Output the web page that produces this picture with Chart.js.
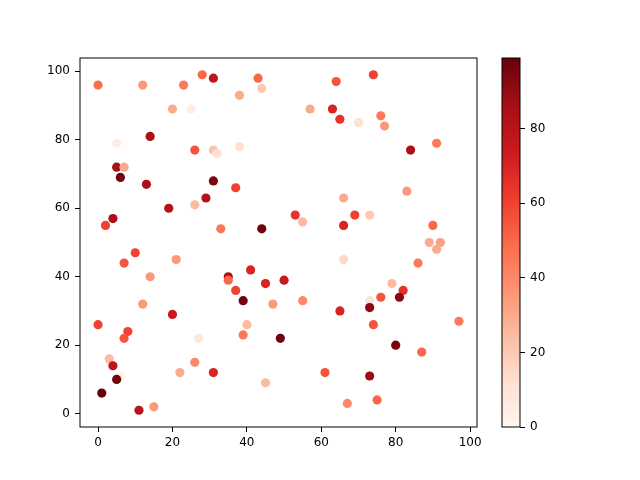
<!DOCTYPE html>
<html>
<head>
<meta charset="utf-8">
<script src="https://cdn.jsdelivr.net/npm/chart.js@4.4.1/dist/chart.umd.min.js"></script>
<style>
    body { margin: 0; background: #fff; }
    #wrap { position: relative; width: 640px; height: 480px; }
    #myChart { position: absolute; left: 0; top: 0; }
    #colorBar { position: absolute; left: 480px; top: 0; }
</style>
</head>
<body>
<div id="wrap">
    <canvas id="myChart" width="640" height="480"></canvas>
    <canvas id="colorBar" width="160" height="480"></canvas>
</div>
<script>
const xValues = [0, 12, 23, 28, 31, 20, 25, 5, 14, 26, 31, 32, 5, 7, 6, 13, 31, 29, 19, 26, 4, 2, 33,
    43, 64, 38, 44, 57, 63, 65, 38, 37, 66, 53, 55, 66, 44,
    74, 70, 76, 77, 84, 91, 83, 69, 73, 90, 89, 92, 91, 66, 86, 79, 82, 76, 73, 81, 73, 65, 74, 97, 80, 87, 73, 67, 75,
    35, 35, 41, 45, 50, 37, 39, 47, 55, 40, 39, 49, 31, 61, 45,
    10, 7, 21, 14, 12, 20, 0, 8, 7, 27, 3, 4, 26, 22, 6, 5, 1, 11, 15];
const yValues = [96, 96, 96, 99, 98, 89, 89, 79, 81, 77, 77, 76, 72, 72, 69, 67, 68, 63, 60, 61, 57, 55, 54,
    98, 97, 93, 95, 89, 89, 86, 78, 66, 63, 58, 56, 55, 54,
    99, 85, 87, 84, 77, 79, 65, 58, 58, 55, 50, 50, 48, 45, 44, 38, 36, 34, 33, 34, 31, 30, 26, 27, 20, 18, 11, 3, 4,
    40, 39, 42, 38, 39, 36, 33, 32, 33, 26, 23, 22, 12, 12, 9,
    47, 44, 45, 40, 32, 29, 26, 24, 22, 22, 16, 14, 15, 12, 11, 10, 6, 1, 2];
const colorValues = [48, 35, 45, 50, 78, 30, 5, 5, 85, 55, 22, 12, 85, 30, 97, 85, 95, 82, 82, 25, 85, 60, 45,
    50, 55, 30, 20, 30, 70, 65, 12, 60, 30, 65, 25, 70, 97,
    60, 12, 45, 35, 85, 45, 35, 60, 20, 50, 30, 33, 30, 15, 45, 25, 65, 55, 10, 92, 92, 70, 55, 45, 96, 50, 88, 40, 50,
    85, 50, 70, 70, 75, 60, 97, 35, 40, 25, 45, 97, 70, 55, 25,
    60, 55, 35, 35, 35, 75, 60, 60, 55, 8, 25, 78, 40, 30, 5, 97, 99, 80, 35];
const xTicks = [0, 20, 40, 60, 80, 100];
const yTicks = [0, 20, 40, 60, 80, 100];
const colorTicks = [0, 20, 40, 60, 80];
// matplotlib "Reds"
const reds = ["#fff5f0", "#fee0d2", "#fcbba1", "#fc9272", "#fb6a4a", "#ef3b2c", "#cb181d", "#a50f15", "#67000d"];
const cMin = 0;
const cMax = 99;

function hexToRgb(h) {
    return [parseInt(h.slice(1, 3), 16), parseInt(h.slice(3, 5), 16), parseInt(h.slice(5, 7), 16)];
}
function redsColor(v) {
    let t = (v - cMin) / (cMax - cMin);
    t = Math.min(1, Math.max(0, t)) * (reds.length - 1);
    const i = Math.min(reds.length - 2, Math.floor(t));
    const f = t - i;
    const a = hexToRgb(reds[i]);
    const b = hexToRgb(reds[i + 1]);
    const c = a.map((n, k) => Math.round(n + (b[k] - n) * f));
    return `rgb(${c[0]}, ${c[1]}, ${c[2]})`;
}
// 5% margins like matplotlib autoscale
function padRange(arr) {
    const lo = Math.min(...arr);
    const hi = Math.max(...arr);
    const m = (hi - lo) * 0.05;
    return [lo - m, hi + m];
}

const tickFont = { family: "DejaVu Sans", size: 12 };
const axisGrid = { drawOnChartArea: false, drawTicks: true, tickLength: 5, color: "#000", lineWidth: 1 };

const framePlugin = {
    id: "frame",
    afterDraw(chart) {
        const { ctx, chartArea: a } = chart;
        ctx.save();
        ctx.strokeStyle = "#000";
        ctx.lineWidth = 1;
        ctx.strokeRect(a.left, a.top, a.right - a.left, a.bottom - a.top);
        ctx.restore();
    }
};

Chart.defaults.color = "#000";
const [xMin, xMax] = padRange(xValues);
const [yMin, yMax] = padRange(yValues);

const chart = new Chart("myChart", {
    type: "scatter",
    data: {
        datasets: [{
            data: xValues.map((x, i) => ({ x: x, y: yValues[i] })),
            backgroundColor: colorValues.map(redsColor),
            borderWidth: 0,
            pointRadius: 4.6,
            pointHoverRadius: 4.6
        }]
    },
    options: {
        responsive: false,
        animation: false,
        devicePixelRatio: 1,
        layout: { padding: { top: 58, right: 163, left: 0, bottom: 0 } },
        plugins: { legend: { display: false }, tooltip: { enabled: false } },
        scales: {
            x: {
                type: "linear",
                min: xMin,
                max: xMax,
                grid: axisGrid,
                border: { display: false },
                afterBuildTicks: (scale) => { scale.ticks = xTicks.map(v => ({ value: v })); },
                afterFit: (scale) => { scale.height = 53; },
                ticks: { font: tickFont, padding: 4, maxRotation: 0 }
            },
            y: {
                type: "linear",
                min: yMin,
                max: yMax,
                grid: axisGrid,
                border: { display: false },
                afterBuildTicks: (scale) => { scale.ticks = yTicks.map(v => ({ value: v })); },
                afterFit: (scale) => { scale.width = 80; },
                ticks: { font: tickFont, padding: 5 }
            }
        }
    },
    plugins: [framePlugin]
});

function makeColorBar() {
    return new Chart("colorBar", {
        type: "bar",
        data: {
            labels: [""],
            datasets: [{
                data: [cMax],
                barPercentage: 1,
                categoryPercentage: 1,
                borderWidth: 0,
                backgroundColor: (context) => {
                    const area = context.chart.chartArea;
                    if (!area) {
                        return reds[4];
                    }
                    const g = context.chart.ctx.createLinearGradient(0, area.bottom, 0, area.top);
                    reds.forEach((col, i) => g.addColorStop(i / (reds.length - 1), col));
                    return g;
                }
            }]
        },
        options: {
            responsive: false,
            animation: false,
            devicePixelRatio: 1,
            layout: { padding: { top: 58, left: 22, bottom: 53, right: 0 } },
            plugins: { legend: { display: false }, tooltip: { enabled: false } },
            scales: {
                x: { display: false },
                y: {
                    position: "right",
                    min: cMin,
                    max: cMax,
                    grid: axisGrid,
                    border: { display: false },
                    afterBuildTicks: (scale) => { scale.ticks = colorTicks.map(v => ({ value: v })); },
                    afterFit: (scale) => { scale.width = 120; },
                    ticks: { font: tickFont, padding: 5 }
                }
            }
        },
        plugins: [framePlugin]
    });
}
const colorBar = makeColorBar();
</script>
</body>
</html>
